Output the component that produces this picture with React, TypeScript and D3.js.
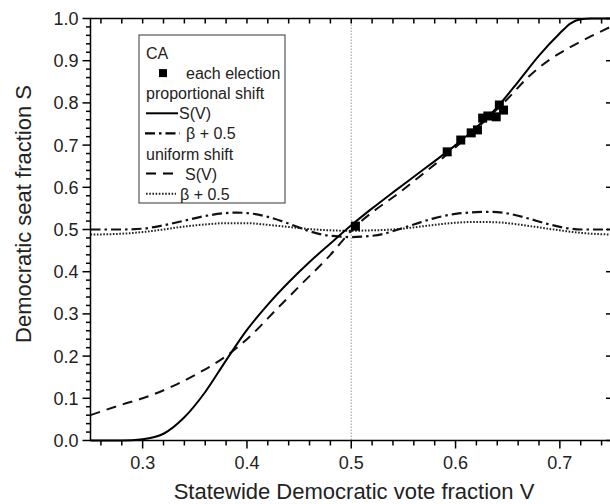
import React from 'react';
import * as d3 from 'd3';

const propV = [0.25, 0.28, 0.30, 0.32, 0.34, 0.36, 0.38, 0.40, 0.42, 0.44, 0.46, 0.48, 0.50, 0.52, 0.54, 0.56, 0.58, 0.60, 0.62, 0.64, 0.66, 0.68, 0.70, 0.71, 0.72, 0.73, 0.75];
const propS = [0.0, 0.0, 0.003, 0.016, 0.055, 0.115, 0.19, 0.262, 0.322, 0.375, 0.423, 0.467, 0.51, 0.55, 0.588, 0.625, 0.662, 0.7, 0.742, 0.79, 0.85, 0.912, 0.965, 0.988, 0.998, 1.0, 1.0];

const uniV = [0.25, 0.28, 0.30, 0.33, 0.35, 0.38, 0.40, 0.43, 0.45, 0.48, 0.50, 0.55, 0.60, 0.65, 0.67, 0.69, 0.71, 0.73, 0.75];
const uniS = [0.06, 0.085, 0.1, 0.13, 0.155, 0.2, 0.24, 0.315, 0.365, 0.44, 0.497, 0.595, 0.695, 0.81, 0.862, 0.902, 0.932, 0.958, 0.982];

const propBetaV = [0.25, 0.28, 0.30, 0.32, 0.34, 0.36, 0.38, 0.39, 0.40, 0.42, 0.44, 0.455, 0.47, 0.49, 0.50, 0.51, 0.53, 0.545, 0.56, 0.58, 0.60, 0.62, 0.635, 0.65, 0.67, 0.69, 0.71, 0.72, 0.75];
const propBetaS = [0.5, 0.5, 0.502, 0.51, 0.521, 0.532, 0.539, 0.54, 0.539, 0.53, 0.514, 0.5, 0.489, 0.483, 0.482, 0.483, 0.489, 0.5, 0.512, 0.527, 0.537, 0.541, 0.542, 0.538, 0.526, 0.512, 0.502, 0.5, 0.5];

const uniBetaV = [0.25, 0.28, 0.30, 0.32, 0.34, 0.36, 0.38, 0.40, 0.42, 0.44, 0.46, 0.48, 0.50, 0.52, 0.54, 0.56, 0.58, 0.60, 0.62, 0.64, 0.66, 0.68, 0.70, 0.72, 0.75];
const uniBetaS = [0.488, 0.49, 0.494, 0.5, 0.507, 0.512, 0.515, 0.515, 0.511, 0.506, 0.501, 0.498, 0.497, 0.498, 0.5, 0.505, 0.511, 0.516, 0.518, 0.517, 0.512, 0.505, 0.498, 0.492, 0.488];

// Each election
const electV = [0.504, 0.592, 0.605, 0.615, 0.621, 0.626, 0.631, 0.639, 0.642, 0.646];
const electS = [0.508, 0.684, 0.712, 0.729, 0.736, 0.764, 0.769, 0.767, 0.795, 0.783];

const xTicks = [0.3, 0.4, 0.5, 0.6, 0.7];
const yTicks = [0.0, 0.1, 0.2, 0.3, 0.4, 0.5, 0.6, 0.7, 0.8, 0.9, 1.0];

const legendRows = ['CA', 'each election', 'proportional shift', 'S(V)', 'β + 0.5', 'uniform shift', 'S(V)', 'β + 0.5'];

const W = 610, H = 504;
const L = 90.5, R = 612, T = 18.5, B = 440.5;

export default function App() {
  const x = d3.scaleLinear().domain([0.25, 0.75]).range([L, R]);
  const y = d3.scaleLinear().domain([0, 1]).range([B, T]);
  const line = (vs: number[], ss: number[]) =>
    d3.line<number>().x((_, i) => x(vs[i])).y((d) => y(d)).curve(d3.curveMonotoneX)(ss) || '';

  const xMinor = d3.range(13, 38).map((i) => i / 50).filter((v) => v >= 0.25 && v <= 0.75);
  const yMinor = d3.range(0, 51).map((i) => i / 50);
  const font = 'Liberation Sans, Arial, sans-serif';
  const lg = { x: 139, y: 35, w: 146, h: 168 };
  const rowY = (i: number) => 59 + i * 20.1;

  return (
    <svg width={W} height={H} style={{ position: 'absolute', left: 0, top: 0, background: '#fff' }} fontFamily={font}>
      <rect x={0} y={0} width={W} height={H} fill="#fff" />
      <defs>
        <clipPath id="plot">
          <rect x={L} y={T - 2} width={R - L} height={B - T + 4} />
        </clipPath>
      </defs>
      {/* vertical reference line at 0.5 */}
      <line x1={x(0.5)} x2={x(0.5)} y1={T} y2={B} stroke="#aaa" strokeWidth={1.2} strokeDasharray="1.5,1.5" />
      <g clipPath="url(#plot)" fill="none">
        <path d={line(uniBetaV, uniBetaS)} stroke="#222" strokeWidth={2} strokeDasharray="1.6,1.6" />
        <path d={line(propBetaV, propBetaS)} stroke="#111" strokeWidth={2.2} strokeDasharray="10,4,2.5,4" />
        <path d={line(uniV, uniS)} stroke="#111" strokeWidth={2} strokeDasharray="10,7" />
        <path d={line(propV, propS)} stroke="#000" strokeWidth={2} />
      </g>
      {electV.map((v, i) => (
        <rect key={i} x={x(v) - 4.5} y={y(electS[i]) - 4.5} width={9} height={9} fill="#000" />
      ))}
      {/* frame */}
      <rect x={L} y={T} width={R - L} height={B - T} fill="none" stroke="#000" strokeWidth={1.5} />
      {/* bottom ticks */}
      {xMinor.map((v, i) => {
        const major = xTicks.some((t) => Math.abs(t - v) < 1e-6);
        return <line key={'xb' + i} x1={x(v)} x2={x(v)} y1={B} y2={B + (major ? 8 : 5)} stroke="#000" strokeWidth={1.5} />;
      })}
      {/* top ticks */}
      {xMinor.map((v, i) => (
        <line key={'xt' + i} x1={x(v)} x2={x(v)} y1={T} y2={T + 5} stroke="#000" strokeWidth={1.5} />
      ))}
      {xTicks.map((v) => (
        <text key={'xl' + v} x={x(v)} y={B + 28} fontSize={18} textAnchor="middle" fill="#222">{v.toFixed(1)}</text>
      ))}
      {/* left ticks */}
      {yMinor.map((v, i) => {
        const major = i % 5 === 0;
        return <line key={'yl' + i} x1={L} x2={L - (major ? 8 : 4.5)} y1={y(v)} y2={y(v)} stroke="#000" strokeWidth={1.5} />;
      })}
      {/* right ticks */}
      {yTicks.map((v) => (
        <line key={'yr' + v} x1={R} x2={R - 6} y1={y(v)} y2={y(v)} stroke="#000" strokeWidth={1.5} />
      ))}
      {yTicks.map((v) => (
        <text key={'ylab' + v} x={L - 12} y={y(v) + 6.5} fontSize={18} textAnchor="end" fill="#222">{v.toFixed(1)}</text>
      ))}
      {/* axis titles */}
      <text x={354} y={499} fontSize={22} textAnchor="middle" fill="#222">Statewide Democratic vote fraction V</text>
      <text transform={`translate(31, 214) rotate(-90)`} fontSize={22} textAnchor="middle" fill="#222">Democratic seat fraction S</text>
      {/* legend */}
      <rect x={lg.x} y={lg.y} width={lg.w} height={lg.h} fill="#fff" stroke="#555" strokeWidth={1.2} />
      <g fontSize={16} fill="#222">
        <text x={146} y={rowY(0)}>{legendRows[0]}</text>
        <rect x={159} y={rowY(1) - 10} width={8} height={8} fill="#000" />
        <text x={186} y={rowY(1)}>{legendRows[1]}</text>
        <text x={146} y={rowY(2)}>{legendRows[2]}</text>
        <line x1={146} x2={178} y1={rowY(3) - 6} y2={rowY(3) - 6} stroke="#000" strokeWidth={2} />
        <text x={179} y={rowY(3)}>{legendRows[3]}</text>
        <line x1={145} x2={180} y1={rowY(4) - 6} y2={rowY(4) - 6} stroke="#000" strokeWidth={2.2} strokeDasharray="10,4,2.5,4" />
        <text x={186} y={rowY(4)}>{legendRows[4]}</text>
        <text x={146} y={rowY(5)}>{legendRows[5]}</text>
        <line x1={146} x2={178} y1={rowY(6) - 6} y2={rowY(6) - 6} stroke="#000" strokeWidth={2} strokeDasharray="10,7" />
        <text x={185} y={rowY(6)}>{legendRows[6]}</text>
        <line x1={146} x2={176} y1={rowY(7) - 6} y2={rowY(7) - 6} stroke="#222" strokeWidth={2} strokeDasharray="1.6,1.6" />
        <text x={180} y={rowY(7)}>{legendRows[7]}</text>
      </g>
    </svg>
  );
}
